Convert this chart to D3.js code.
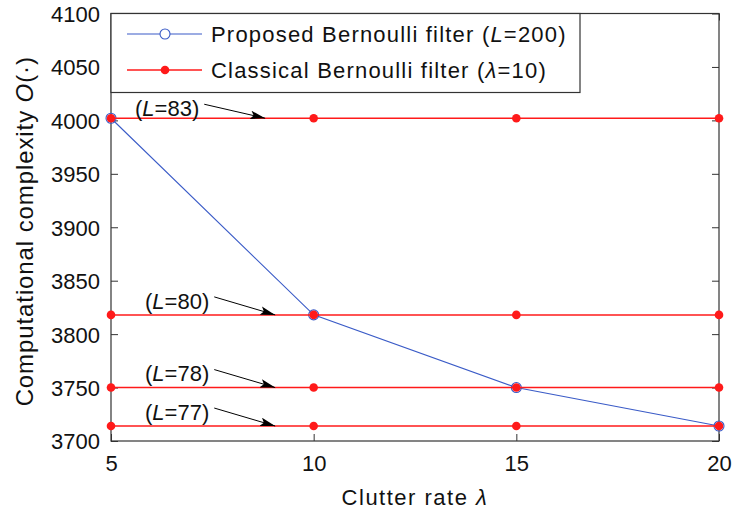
<!DOCTYPE html>
<html>
<head>
<meta charset="utf-8">
<script src="https://cdn.jsdelivr.net/npm/d3@7"></script>
<style>
body { margin: 0; background: #fff; }
text { font-family: "Liberation Sans", Arial, sans-serif; fill: #111; }
</style>
</head>
<body>
<div id="chart"></div>
<script>
// clutter rate values on the x axis
const clutterRate = [5, 10, 15, 20];
// proposed filter, L=200
const proposed = [4002, 3818, 3750, 3714];
// classical filter levels, one per number of particles L
const classicalL = [83, 80, 78, 77];
const classicalLevel = [4002, 3818, 3750, 3714];
const yTicks = [3700, 3750, 3800, 3850, 3900, 3950, 4000, 4050, 4100];
const xTicks = [5, 10, 15, 20];

const width = 733, height = 510;
const margin = { top: 13.5, right: 14, bottom: 69, left: 111 };

const svg = d3.select('#chart')
  .append('svg')
  .attr('width', width)
  .attr('height', height);

const xScale = d3.scaleLinear()
  .domain([5, 20])
  .range([margin.left, width - margin.right]);

const yScale = d3.scaleLinear()
  .domain([3700, 4100])
  .range([height - margin.bottom, margin.top]);

const x0 = xScale.range()[0], x1 = xScale.range()[1];
const y0 = yScale.range()[0], y1 = yScale.range()[1];

// axes, ticks inward on all four sides
const axisColor = '#333';
svg.append('g')
  .attr('transform', `translate(0,${y0})`)
  .call(d3.axisBottom(xScale).tickValues(xTicks).tickSize(-7).tickPadding(14).tickFormat(d3.format('d')))
  .call(g => g.select('.domain').remove())
  .call(g => g.selectAll('line').attr('stroke', axisColor))
  .call(g => g.selectAll('text').style('font-size', '22px').attr('fill', '#111'));

svg.append('g')
  .attr('transform', `translate(0,${y1})`)
  .call(d3.axisTop(xScale).tickValues(xTicks).tickSize(-7).tickFormat(''))
  .call(g => g.select('.domain').remove())
  .call(g => g.selectAll('line').attr('stroke', axisColor));

svg.append('g')
  .attr('transform', `translate(${x0},0)`)
  .call(d3.axisLeft(yScale).tickValues(yTicks).tickSize(-7).tickPadding(11).tickFormat(d3.format('d')))
  .call(g => g.select('.domain').remove())
  .call(g => g.selectAll('line').attr('stroke', axisColor))
  .call(g => g.selectAll('text').style('font-size', '22px').attr('fill', '#111').attr('dy', '0.36em'));

svg.append('g')
  .attr('transform', `translate(${x1},0)`)
  .call(d3.axisRight(yScale).tickValues(yTicks).tickSize(-7).tickFormat(''))
  .call(g => g.select('.domain').remove())
  .call(g => g.selectAll('line').attr('stroke', axisColor));

svg.append('rect')
  .attr('x', x0).attr('y', y1)
  .attr('width', x1 - x0).attr('height', y0 - y1)
  .attr('fill', 'none')
  .attr('stroke', axisColor)
  .attr('stroke-width', 1.2);

// axis titles
svg.append('text')
  .attr('x', (x0 + x1) / 2)
  .attr('y', 505)
  .attr('text-anchor', 'middle')
  .style('font-size', '22px')
  .style('letter-spacing', '1.5px')
  .html('Clutter rate <tspan font-style="italic">λ</tspan>');

svg.append('text')
  .attr('transform', `translate(33,${(y0 + y1) / 2 + 4}) rotate(-90)`)
  .attr('text-anchor', 'middle')
  .style('font-size', '24px')
  .style('letter-spacing', '0.9px')
  .html('Computational complexity <tspan font-style="italic">O</tspan>(·)');

// proposed filter line
const blue = '#3a5bc7';
const red = '#ff1a1a';
const propData = clutterRate.map((c, i) => ({ x: c, y: proposed[i] }));

svg.append('path')
  .datum(propData)
  .attr('fill', 'none')
  .attr('stroke', blue)
  .attr('stroke-width', 1.1)
  .attr('d', d3.line().x(d => xScale(d.x)).y(d => yScale(d.y)));

svg.append('g')
  .selectAll('circle')
  .data(propData)
  .enter()
  .append('circle')
  .attr('cx', d => xScale(d.x))
  .attr('cy', d => yScale(d.y))
  .attr('r', 5)
  .attr('fill', 'none')
  .attr('stroke', blue)
  .attr('stroke-width', 1.1);

// classical filter lines
classicalLevel.forEach((lev, i) => {
  const pts = clutterRate.map(c => ({ x: c, y: lev }));
  svg.append('path')
    .datum(pts)
    .attr('fill', 'none')
    .attr('stroke', red)
    .attr('stroke-width', 1.5)
    .attr('d', d3.line().x(d => xScale(d.x)).y(d => yScale(d.y)));
  svg.append('g')
    .selectAll('circle')
    .data(pts)
    .enter()
    .append('circle')
    .attr('cx', d => xScale(d.x))
    .attr('cy', d => yScale(d.y))
    .attr('r', 4.3)
    .attr('fill', red);
});

// arrow annotations
svg.append('defs').append('marker')
  .attr('id', 'head')
  .attr('viewBox', '0 0 14 8')
  .attr('refX', 14).attr('refY', 4)
  .attr('markerWidth', 15).attr('markerHeight', 9)
  .attr('markerUnits', 'userSpaceOnUse')
  .attr('orient', 'auto')
  .append('path')
  .attr('d', 'M0,0 L14,4 L0,8 L3,4 Z')
  .attr('fill', '#000');

classicalL.forEach((L, i) => {
  const ly = yScale(classicalLevel[i]);
  const tx = i === 0 ? x0 + 24 : x0 + 34;
  const lift = i === 0 ? 10 : 14;
  const t = svg.append('text')
    .attr('x', tx)
    .attr('y', ly - lift)
    .attr('dy', '0.36em')
    .style('font-size', '22px')
    .html(`(<tspan font-style="italic">L</tspan>=${L})`);
  const tw = t.node().getComputedTextLength();
  svg.append('line')
    .attr('x1', tx + tw + 5)
    .attr('y1', ly - lift - 4)
    .attr('x2', xScale(9.05) - (i === 0 ? 10 : 0))
    .attr('y2', ly)
    .attr('stroke', '#000')
    .attr('stroke-width', 1)
    .attr('marker-end', 'url(#head)');
});

// legend
const legend = svg.append('g');
legend.append('rect')
  .attr('x', x0).attr('y', y1)
  .attr('width', 469).attr('height', 79)
  .attr('fill', '#fff')
  .attr('stroke', axisColor)
  .attr('stroke-width', 1.2);

const legendItems = [
  { label: 'Proposed Bernoulli filter (<tspan font-style="italic">L</tspan>=200)', color: blue, open: true },
  { label: 'Classical Bernoulli filter (<tspan font-style="italic">λ</tspan>=10)', color: red, open: false }
];
legendItems.forEach((d, i) => {
  const ly = 34 + i * 36;
  legend.append('line')
    .attr('x1', 127).attr('x2', 202)
    .attr('y1', ly).attr('y2', ly)
    .attr('stroke', d.color)
    .attr('stroke-width', d.open ? 1.1 : 1.5);
  legend.append('circle')
    .attr('cx', 165).attr('cy', ly)
    .attr('r', d.open ? 5 : 4.3)
    .attr('fill', d.open ? '#fff' : d.color)
    .attr('stroke', d.open ? d.color : 'none')
    .attr('stroke-width', 1.1);
  legend.append('text')
    .attr('x', 211).attr('y', ly)
    .attr('dy', '0.36em')
    .style('font-size', '22px')
    .style('letter-spacing', '1.2px')
    .html(d.label);
});
</script>
</body>
</html>
